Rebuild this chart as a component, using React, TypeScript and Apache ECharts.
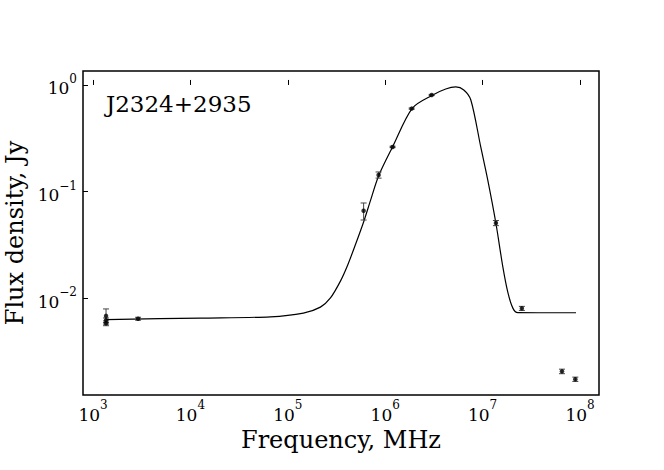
import React, { useEffect, useRef } from "react";
import * as echarts from "echarts";

// Measured points (frequency in MHz, flux density in Jy, 1-sigma error in Jy)
const freqMHz = [1360, 1360, 1360, 2900, 6.0e5, 8.55e5, 1.19e6, 1.87e6, 3.0e6, 1.37e7, 2.53e7, 6.53e7, 8.95e7];
const fluxJy = [0.0068, 0.0062, 0.0058, 0.0064, 0.066, 0.143, 0.262, 0.6, 0.805, 0.0506, 0.008, 0.00205, 0.00173];
const fluxErr = [0.0011, 0.0003, 0.0003, 0.0002, 0.012, 0.0095, 0.004, 0.008, 0.01, 0.0028, 0.00035, 0.0001, 0.00008];

// Fitted spectrum curve
const curveFreqMHz = [
  1360, 12600, 66200, 144500, 216000, 274000, 348000, 410000, 495000, 600000,
  708000, 855000, 1.19e6, 1.91e6, 3.08e6, 4.18e6, 5.3e6, 6.41e6, 7.57e6, 9.57e6,
  1.13e7, 1.368e7, 1.615e7, 1.816e7, 2.05e7, 2.3e7, 3.7e7, 9.1e7,
];
const curveFluxJy = [
  0.00628, 0.00649, 0.00667, 0.00723, 0.00822, 0.01003, 0.0145, 0.0202, 0.0318, 0.0518,
  0.0831, 0.14, 0.262, 0.608, 0.805, 0.917, 0.958, 0.898, 0.723, 0.262,
  0.128, 0.0506, 0.0195, 0.0113, 0.0080, 0.0073, 0.00728, 0.00728,
];

const xTickExp = [3, 4, 5, 6, 7, 8];
const yTickExp = [-2, -1, 0];

const sourceName = "J2324+2935";
const xName = "Frequency, MHz";
const yName = "Flux density, Jy";

const FONT = "DejaVu Serif";

function expLabel(v: number) {
  const e = Math.round(v);
  const s = e < 0 ? "\u2212" + Math.abs(e) : String(e);
  return `{b|10}{s|${s}}`;
}

const richStyle = {
  b: { fontFamily: FONT, fontSize: 17, color: "#000", lineHeight: 24, verticalAlign: "bottom" },
  s: { fontFamily: FONT, fontSize: 12, color: "#000", lineHeight: 12, verticalAlign: "top" },
};

export default function App() {
  const ref = useRef<HTMLDivElement>(null);
  useEffect(() => {
    if (!ref.current) return;
    const chart = echarts.init(ref.current, undefined, { renderer: "svg" });
    const lg = Math.log10;
    const curve = curveFreqMHz.map((f, i) => [lg(f), lg(curveFluxJy[i])]);
    const pts = freqMHz.map((f, i) => [lg(f), lg(fluxJy[i])]);
    const errs = freqMHz.map((f, i) => [
      lg(f),
      lg(fluxJy[i]),
      lg(Math.max(fluxJy[i] - fluxErr[i], 1e-6)),
      lg(fluxJy[i] + fluxErr[i]),
    ]);
    chart.setOption({
      animation: false,
      backgroundColor: "#fff",
      title: {
        text: sourceName,
        left: 101,
        top: 87,
        textStyle: { fontFamily: FONT, fontSize: 23, fontWeight: "normal", color: "#000" },
      },
      grid: {
        left: 83,
        top: 71,
        width: 516,
        height: 324,
        containLabel: false,
        outerBoundsMode: "none",
        show: true,
        borderColor: "#000",
        borderWidth: 1.5,
        backgroundColor: "transparent",
      },
      xAxis: {
        type: "value",
        min: 2.897,
        max: 8.195,
        name: xName,
        nameLocation: "middle",
        nameGap: 27,
        nameTextStyle: { fontFamily: FONT, fontSize: 24, color: "#000" },
        axisLine: { show: false },
        splitLine: { show: false },
        axisTick: {
          show: true,
          inside: true,
          length: 5,
          lineStyle: { color: "#000", width: 1 },
          customValues: xTickExp,
        },
        axisLabel: {
          margin: 4,
          customValues: xTickExp,
          formatter: (v: number) => expLabel(v),
          rich: richStyle,
        },
      },
      yAxis: {
        type: "value",
        min: -2.91,
        max: 0.131,
        name: yName,
        nameLocation: "middle",
        nameGap: 53,
        nameRotate: 90,
        nameTextStyle: { fontFamily: FONT, fontSize: 24, color: "#000" },
        axisLine: { show: false },
        splitLine: { show: false },
        axisTick: {
          show: true,
          inside: true,
          length: 5,
          lineStyle: { color: "#000", width: 1 },
          customValues: yTickExp,
        },
        axisLabel: {
          margin: 6,
          customValues: yTickExp,
          formatter: (v: number) => expLabel(v),
          rich: richStyle,
        },
      },
      series: [
        {
          type: "line",
          data: curve,
          smooth: 0.3,
          showSymbol: false,
          symbol: "none",
          lineStyle: { color: "#000", width: 1.2 },
          z: 2,
        },
        {
          type: "custom",
          data: errs,
          z: 3,
          renderItem: (params: any, api: any) => {
            const x = api.value(0);
            const lo = api.coord([x, api.value(2)]);
            const hi = api.coord([x, api.value(3)]);
            const w = 3;
            const st = { stroke: "#444", lineWidth: 1 };
            return {
              type: "group",
              children: [
                { type: "line", shape: { x1: lo[0], y1: lo[1], x2: hi[0], y2: hi[1] }, style: st },
                { type: "line", shape: { x1: hi[0] - w, y1: hi[1], x2: hi[0] + w, y2: hi[1] }, style: st },
                { type: "line", shape: { x1: lo[0] - w, y1: lo[1], x2: lo[0] + w, y2: lo[1] }, style: st },
              ],
            };
          },
        },
        {
          type: "scatter",
          data: pts,
          symbol: "circle",
          symbolSize: 4.5,
          itemStyle: { color: "#000" },
          z: 4,
        },
      ],
    });
    return () => chart.dispose();
  }, []);
  return (
    <div
      ref={ref}
      style={{ position: "fixed", left: 0, top: 0, width: 664, height: 470 }}
    />
  );
}
